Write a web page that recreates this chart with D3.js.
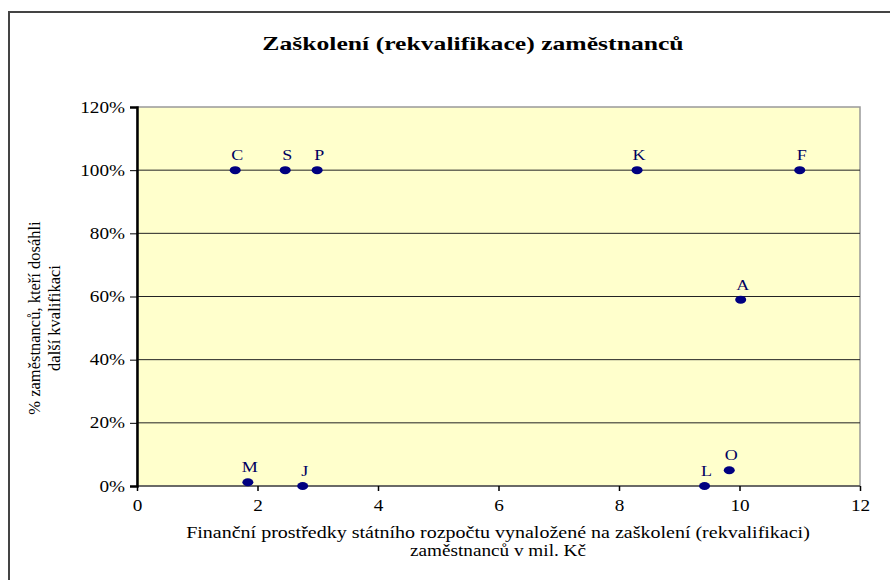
<!DOCTYPE html>
<html>
<head>
<meta charset="utf-8">
<script src="https://cdn.jsdelivr.net/npm/d3@7"></script>
<style>
  body { margin: 0; background: #fff; }
</style>
</head>
<body>
<script>
// data
var labels = ["C", "S", "P", "K", "F", "A", "M", "J", "L", "O"];
var spend  = [1.63, 2.46, 2.99, 8.3, 11.0, 10.02, 1.84, 2.75, 9.42, 9.83];
var share  = [1.0, 1.0, 1.0, 1.0, 1.0, 0.59, 0.012, 0.0, 0.0, 0.05];
var xTicks = [0, 2, 4, 6, 8, 10, 12];
var yTicks = [0, 0.2, 0.4, 0.6, 0.8, 1.0, 1.2];

var serif = "Liberation Serif";
var W = 890, H = 580;
var margin = {top: 107, right: 30, bottom: 94, left: 137}
  , width = 860 - margin.left
  , height = 486 - margin.top;

// the original picture is a bit wider than tall, so text gets stretched sideways
function stretch(sel, k){
    sel.each(function(){
        var len = this.getComputedTextLength();
        d3.select(this).attr("textLength", len * k).attr("lengthAdjust", "spacingAndGlyphs");
    });
}

var svg = d3.select("body").append("svg")
    .attr("width", W)
    .attr("height", H)
    .attr("font-family", serif);

// outer frame
svg.append("rect")
    .attr("x", 9).attr("y", 12)
    .attr("width", W + 20).attr("height", H + 20)
    .attr("fill", "#fff")
    .attr("stroke", "#444")
    .attr("stroke-width", 2);

svg.append("text")
    .attr("x", 473).attr("y", 50)
    .attr("font-size", "19px")
    .attr("font-weight", "bold")
    .style("text-anchor", "middle")
    .text("Zaškolení (rekvalifikace) zaměstnanců")
    .call(stretch, 1.35);

var g = svg.append("g")
    .attr("transform", "translate(" + margin.left + "," + margin.top + ")");

var xScale = d3.scaleLinear().domain([0, 12]).range([0, width]),
    yScale = d3.scaleLinear().domain([0, 1.2]).range([height, 0]);

g.append("rect")
    .attr("width", width).attr("height", height)
    .attr("fill", "#ffffcc")
    .attr("stroke", "#999")
    .attr("stroke-width", 1.5);

// gridlines
g.selectAll(".grid")
    .data(yTicks.slice(0, 6))
    .enter().append("line")
    .attr("x1", 0).attr("x2", width)
    .attr("y1", function(d){ return yScale(d); })
    .attr("y2", function(d){ return yScale(d); })
    .attr("stroke", "#222")
    .attr("stroke-width", 1);

var yAxis = g.append("g")
    .call(d3.axisLeft(yScale).tickValues(yTicks)
        .tickFormat(d3.format(".0%")).tickSize(7).tickPadding(5));
yAxis.attr("font-family", serif);
yAxis.select(".domain").attr("stroke", "#000").attr("stroke-width", 2.5);
yAxis.selectAll(".tick line").attr("stroke", "#000").attr("stroke-width", 1);
yAxis.selectAll("text").attr("font-size", "16px").attr("fill", "#000").call(stretch, 1.2);

var xAxis = g.append("g")
    .attr("transform", "translate(0," + height + ")")
    .call(d3.axisBottom(xScale).tickValues(xTicks).tickSize(5).tickPadding(9));
xAxis.attr("font-family", serif);
xAxis.select(".domain").remove();
xAxis.selectAll(".tick line").attr("stroke", "#000").attr("stroke-width", 1.5);
xAxis.selectAll("text").attr("font-size", "16px").attr("fill", "#000").call(stretch, 1.2);

// points
var pts = labels.map(function(d, i){ return {name: d, x: spend[i], y: share[i]}; });

g.selectAll(".dot")
    .data(pts)
    .enter().append("ellipse")
    .attr("cx", function(d){ return xScale(d.x); })
    .attr("cy", function(d){ return yScale(d.y); })
    .attr("rx", 5.5).attr("ry", 4)
    .attr("fill", "#000080");

g.selectAll(".lbl")
    .data(pts)
    .enter().append("text")
    .attr("x", function(d){ return xScale(d.x) + 2; })
    .attr("y", function(d){ return yScale(d.y) - 10; })
    .attr("font-size", "15px")
    .attr("fill", "#000060")
    .style("text-anchor", "middle")
    .text(function(d){ return d.name; })
    .call(stretch, 1.2);

// axis titles
svg.append("text")
    .attr("x", 498).attr("y", 538)
    .attr("font-size", "16px")
    .style("text-anchor", "middle")
    .text("Finanční prostředky státního rozpočtu vynaložené na zaškolení (rekvalifikaci)")
    .call(stretch, 1.25);
svg.append("text")
    .attr("x", 498).attr("y", 556)
    .attr("font-size", "16px")
    .style("text-anchor", "middle")
    .text("zaměstnanců v mil. Kč")
    .call(stretch, 1.2);

svg.append("text")
    .attr("transform", "translate(40,318) rotate(-90)")
    .attr("font-size", "16.5px")
    .style("text-anchor", "middle")
    .text("% zaměstnanců, kteří dosáhli");
svg.append("text")
    .attr("transform", "translate(60,318) rotate(-90)")
    .attr("font-size", "16.5px")
    .style("text-anchor", "middle")
    .text("další kvalifikaci");
</script>
</body>
</html>
